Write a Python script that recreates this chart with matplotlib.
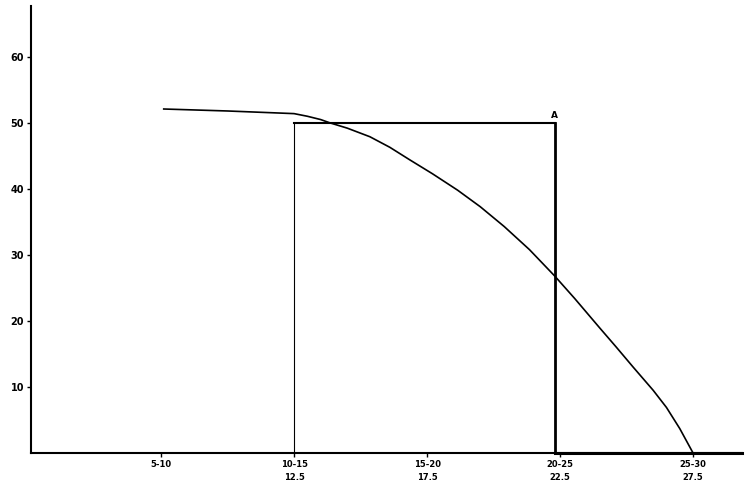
import matplotlib
matplotlib.use('Agg')
import matplotlib.pyplot as plt

# curve (x in class-midpoint units, y value)
curve_x = [7.6, 10.0, 12.5, 13.0, 13.5, 13.85, 14.5, 15.35, 16.1, 16.85, 17.7, 18.65,
           19.5, 20.4, 21.35, 22.3, 23.05, 24.0, 24.6, 25.25, 26.0, 26.5, 27.0, 27.5]
curve_y = [52.1, 51.8, 51.4, 51.0, 50.5, 50.0, 49.2, 47.9, 46.3, 44.4, 42.3, 39.8,
           37.3, 34.3, 30.8, 26.8, 23.4, 18.9, 16.1, 13.0, 9.5, 6.9, 3.7, 0.0]

# rectangle up to point A
rect_left = 12.5
rect_right = 22.3
rect_top = 50

tick_pos = [7.5, 12.5, 17.5, 22.5, 27.5]
tick_labels = ['5-10', '10-15\n12.5', '15-20\n17.5', '20-25\n22.5', '25-30\n27.5']
yticks = [10, 20, 30, 40, 50, 60]

fig = plt.figure(figsize=(7.5, 4.84), dpi=100)
ax = fig.add_axes([31 / 750, 31 / 484, 711 / 750, 447 / 484])

ax.plot(curve_x, curve_y, color='black', lw=1.2)

ax.plot([rect_left, rect_left], [0, rect_top], color='black', lw=0.8)
ax.plot([rect_left, rect_right], [rect_top, rect_top], color='black', lw=1.5)
ax.plot([rect_right, rect_right], [0, rect_top], color='black', lw=2.0)
ax.plot([rect_right, 29.34], [0, 0], color='black', lw=2.2, clip_on=False)
ax.text(rect_right, rect_top + 0.4, 'A', fontsize=6.5, fontweight='bold',
        ha='center', va='bottom')

ax.set_xlim(2.61, 29.34)
ax.set_ylim(0, 67.7)
ax.set_xticks(tick_pos)
ax.set_xticklabels(tick_labels, fontsize=6, fontweight='bold', linespacing=1.6)
ax.set_yticks(yticks)
ax.set_yticklabels([str(v) for v in yticks], fontsize=7, fontweight='bold')
ax.tick_params(axis='both', length=3, width=1, pad=2)

for side in ['top', 'right']:
    ax.spines[side].set_visible(False)
for side in ['left', 'bottom']:
    ax.spines[side].set_linewidth(1.5)

fig.savefig('out.png', dpi=100)
